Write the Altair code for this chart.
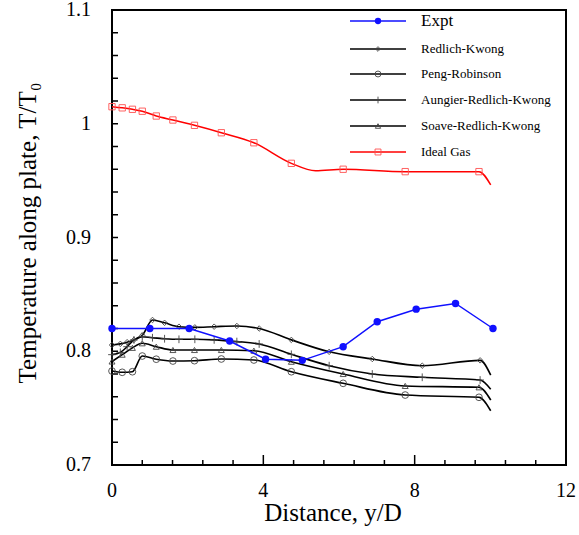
import altair as alt
import pandas as pd

# ---------------- data ----------------
expt_x = [0.0, 1.0, 2.04, 3.11, 4.06, 5.03, 6.11, 7.01, 8.04, 9.08, 10.07]
expt_y = [0.820, 0.820, 0.820, 0.809, 0.793, 0.792, 0.804, 0.826, 0.837, 0.842, 0.820]

# marker positions
rk_mx = [0.0, 0.22, 0.40, 0.58, 0.80, 1.07, 1.39, 1.77, 2.19, 2.70, 3.30, 3.89, 4.74, 5.74, 6.88, 8.20, 9.73]
rk_my = [0.8055, 0.8065, 0.808, 0.810, 0.814, 0.8275, 0.825, 0.8216, 0.821, 0.8216, 0.8222, 0.820, 0.810, 0.7995, 0.7932, 0.7873, 0.792]
ark_mx = rk_mx
ark_my = [0.797, 0.799, 0.804, 0.810, 0.8128, 0.8119, 0.811, 0.8105, 0.8105, 0.810, 0.8085, 0.8064, 0.7973, 0.7873, 0.780, 0.7771, 0.7747]
pr_mx = [0.0, 0.27, 0.54, 0.80, 1.17, 1.61, 2.18, 2.89, 3.75, 4.74, 6.11, 7.75, 9.70]
pr_my = [0.7826, 0.7815, 0.782, 0.7958, 0.793, 0.7914, 0.7917, 0.7932, 0.7923, 0.782, 0.7718, 0.7615, 0.7595]
srk_mx = pr_mx
srk_my = [0.791, 0.797, 0.803, 0.807, 0.804, 0.8011, 0.8011, 0.8011, 0.8005, 0.7908, 0.780, 0.7695, 0.7683]
ig_mx = pr_mx
ig_my = [1.015, 1.014, 1.0127, 1.011, 1.0068, 1.0033, 0.9986, 0.9921, 0.9833, 0.9652, 0.960, 0.9579, 0.9579]

# extra points of the smooth curves (beyond the markers)
rk_ex = ([10.01], [0.779])
ark_ex = ([10.01], [0.7665])
pr_ex = ([10.01], [0.7477])
srk_ex = ([10.01], [0.7571])
ig_ex = ([5.38, 10.01], [0.9587, 0.9462])

legend_names = ["Expt", "Redlich-Kwong", "Peng-Robinson", "Aungier-Redlich-Kwong",
                "Soave-Redlich-Kwong", "Ideal Gas"]

x_label_values = [0, 4, 8, 12]
x_label_text = ["0", "4", "8", "12"]
x_major_ticks = [0, 4, 8, 12]
x_minor_ticks = [0.8, 1.6, 2.4, 3.2, 4.8, 5.6, 6.4, 7.2, 8.8, 9.6, 10.4, 11.2]
y_label_values = [0.7, 0.8, 0.9, 1.0, 1.1]
y_label_text = ["0.7", "0.8", "0.9", "1", "1.1"]
y_tick_values = [0.72, 0.74, 0.76, 0.78, 0.80, 0.82, 0.84, 0.86, 0.88, 0.90,
                 0.92, 0.94, 0.96, 0.98, 1.00, 1.02, 1.04, 1.06, 1.08]
x_title = "Distance, y/D"
y_title = "Temperature along plate, T/T\u2080"

# ---------------- styling ----------------
W, H = 454, 455
FONT = "Liberation Serif"
PLUS = "M-1,0L1,0M0,-1L0,1"

xs = alt.Scale(domain=[0, 12], nice=False, zero=False)
ys = alt.Scale(domain=[0.7, 1.1], nice=False, zero=False)


def df_of(x, y):
    return pd.DataFrame({"x": x, "y": y})


def line_df(mx, my, ex):
    pts = sorted(zip(list(mx) + list(ex[0]), list(my) + list(ex[1])))
    return df_of([p[0] for p in pts], [p[1] for p in pts])


def lines(df, color, width, interp):
    return alt.Chart(df).mark_line(color=color, strokeWidth=width, interpolate=interp).encode(
        x=alt.X("x:Q", scale=xs, axis=None), y=alt.Y("y:Q", scale=ys, axis=None))


def points(df, shape, size, stroke, fill=None, sw=0.9):
    kw = dict(shape=shape, size=size, strokeWidth=sw, opacity=1)
    if fill:
        kw.update(filled=True, color=fill)
    else:
        kw.update(filled=False, color=stroke)
    return alt.Chart(df).mark_point(**kw).encode(
        x=alt.X("x:Q", scale=xs, axis=None), y=alt.Y("y:Q", scale=ys, axis=None))


def xticks(vals, length):
    return alt.Chart(pd.DataFrame({"tx": vals})).mark_rule(color="black", strokeWidth=1.5).encode(
        x=alt.X("tx:Q", scale=xs, axis=None), y=alt.value(H), y2=alt.value(H - length))


def yticks(vals, length):
    return alt.Chart(pd.DataFrame({"ty": vals})).mark_rule(color="black", strokeWidth=1.5).encode(
        y=alt.Y("ty:Q", scale=ys, axis=None), x=alt.value(0), x2=alt.value(length))


BLK = "black"
MK = "#444444"
RED = "#ff0000"
BLUE = "#1010ff"

frame = alt.Chart(pd.DataFrame({"k": [0]})).mark_rect(
    fill="transparent", stroke="black", strokeWidth=2).encode(
    x=alt.value(0), x2=alt.value(W), y=alt.value(0), y2=alt.value(H))

layers = [
    frame,
    xticks(x_major_ticks, 10),
    xticks(x_minor_ticks, 5),
    yticks(y_tick_values, 6),
    lines(line_df(pr_mx, pr_my, pr_ex), BLK, 1.6, "monotone"),
    lines(line_df(srk_mx, srk_my, srk_ex), BLK, 1.6, "monotone"),
    lines(line_df(ark_mx, ark_my, ark_ex), BLK, 1.6, "monotone"),
    lines(line_df(rk_mx, rk_my, rk_ex), BLK, 1.6, "monotone"),
    points(df_of(pr_mx, pr_my), "circle", 45, MK),
    points(df_of(srk_mx, srk_my), "triangle-up", 35, MK),
    points(df_of(ark_mx, ark_my), PLUS, 60, MK),
    points(df_of(rk_mx, rk_my), "diamond", 30, MK),
    lines(line_df(ig_mx, ig_my, ig_ex), RED, 1.5, "monotone"),
    points(df_of(ig_mx, ig_my), "square", 40, "#ff5050"),
    lines(df_of(expt_x, expt_y), BLUE, 1.5, "linear"),
    points(df_of(expt_x, expt_y), "circle", 55, BLUE, fill=BLUE),
]

# ---------------- axis labels and titles as text marks ----------------
layers.append(alt.Chart(pd.DataFrame({"x": x_label_values, "t": x_label_text})).mark_text(
    font=FONT, fontSize=20, color="black", align="center", baseline="alphabetic").encode(
    x=alt.X("x:Q", scale=xs, axis=None), y=alt.value(H + 32), text="t:N"))
layers.append(alt.Chart(pd.DataFrame({"y": y_label_values, "t": y_label_text})).mark_text(
    font=FONT, fontSize=20, color="black", align="right", baseline="middle").encode(
    y=alt.Y("y:Q", scale=ys, axis=None), x=alt.value(-21), text="t:N"))
layers.append(alt.Chart(pd.DataFrame({"t": [x_title]})).mark_text(
    font=FONT, fontSize=25, color="black", align="center", baseline="alphabetic").encode(
    x=alt.value(221), y=alt.value(H + 56), text="t:N"))
layers.append(alt.Chart(pd.DataFrame({"t": [y_title]})).mark_text(
    font=FONT, fontSize=25, color="black", align="center", baseline="middle", angle=270).encode(
    x=alt.value(-84), y=alt.value(223), text="t:N"))

# ---------------- legend (top right, inside the frame) ----------------
leg_style = [
    (BLUE, "circle", 40, BLUE, 17),
    (BLK, "diamond", 22, MK, 13),
    (BLK, "circle", 35, MK, 13),
    (BLK, PLUS, 45, MK, 13),
    (BLK, "triangle-up", 28, MK, 13),
    (RED, "square", 35, "#ff5050", 13),
]
row_y = [11, 39, 64, 90, 116, 142]
for i, name in enumerate(legend_names):
    lc, shp, sz, mc, fs = leg_style[i]
    d = pd.DataFrame({"name": [name]})
    ly = row_y[i]
    layers.append(alt.Chart(d).mark_rule(color=lc, strokeWidth=1.6).encode(
        x=alt.value(238), x2=alt.value(294), y=alt.value(ly)))
    if i == 0:
        pm = alt.Chart(d).mark_point(shape=shp, size=sz, filled=True, color=mc, opacity=1)
    else:
        pm = alt.Chart(d).mark_point(shape=shp, size=sz, filled=False, color=mc,
                                     strokeWidth=0.9, opacity=1)
    layers.append(pm.encode(x=alt.value(266), y=alt.value(ly)))
    layers.append(alt.Chart(d).mark_text(align="left", baseline="middle", font=FONT,
                                         fontSize=fs, color="black").encode(
        x=alt.value(309), y=alt.value(ly), text="name:N"))

chart = alt.layer(*layers).properties(
    width=W, height=H,
    padding={"left": 16, "top": 0, "right": 1, "bottom": 8},
).configure_view(stroke="black", strokeWidth=2)

chart.save("out.html", embed_options={"renderer": "svg", "actions": False})
